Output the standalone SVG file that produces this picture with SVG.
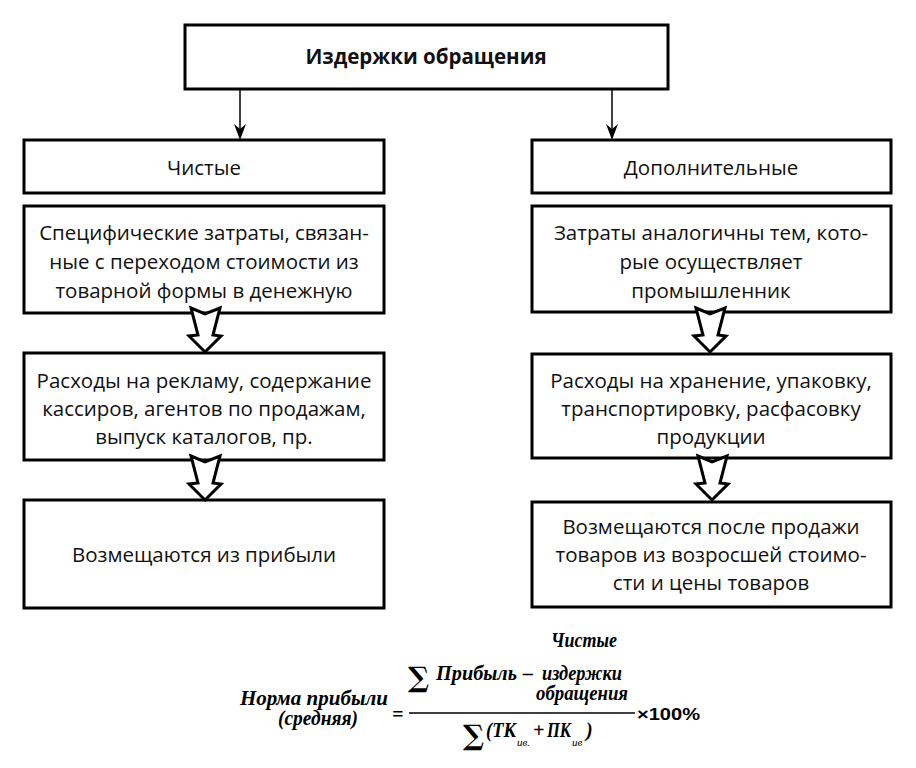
<svg xmlns="http://www.w3.org/2000/svg" width="916" height="768" viewBox="0 0 916 768">
<style>
.box{fill:#fff;stroke:#000;stroke-width:3}
.t{font-family:"Open Sans","DejaVu Sans",sans-serif;font-size:20.5px;fill:#111;text-anchor:middle}
.b{font-weight:bold}
.f{font-family:"Liberation Serif","Times New Roman",serif;font-weight:bold;font-style:italic;font-size:20px;fill:#000}
.s{font-family:"DejaVu Serif",serif;font-weight:bold;font-size:28px;fill:#000}
.sub{font-family:"Liberation Serif","Times New Roman",serif;font-style:italic;font-size:11px;fill:#000}
.ha{fill:#fff;stroke:#000;stroke-width:3;stroke-linejoin:miter}
.ln{stroke:#000;stroke-width:1.5;fill:none}
</style>
<defs>
<path id="head" d="M-6,-16 L0,-11 L6,-16 L0,0 Z" fill="#000"/>
<path id="hollow" d="M-14,0 L0,6 L15,0 L8,27 L16,28 L0,44 L-16,28 L-7,27 Z"/>
</defs>
<g id="connectors">
<line class="ln" x1="240" y1="89" x2="240" y2="130"/>
<use href="#head" transform="translate(240,140)"/>
<line class="ln" x1="612" y1="89" x2="612" y2="130"/>
<use href="#head" transform="translate(612,140)"/>
</g>
<g id="top">
<rect class="box" x="185" y="25" width="483" height="64"/>
<text class="t b" x="426" y="64">Издержки обращения</text>
</g>
<g id="chistye">
<rect class="box" x="24" y="140" width="360" height="53"/>
<text class="t" x="204" y="175">Чистые</text>
</g>
<g id="dop">
<rect class="box" x="532" y="140" width="359" height="53"/>
<text class="t" x="711" y="175">Дополнительные</text>
</g>
<g id="left2">
<rect class="box" x="24" y="206" width="360" height="107"/>
<text class="t" x="204" y="240">Специфические затраты, связан-</text>
<text class="t" x="204" y="269">ные с переходом стоимости из</text>
<text class="t" x="204" y="298">товарной формы в денежную</text>
</g>
<g id="right2">
<rect class="box" x="532" y="206" width="359" height="106"/>
<text class="t" x="711" y="240">Затраты аналогичны тем, кото-</text>
<text class="t" x="711" y="269">рые осуществляет</text>
<text class="t" x="711" y="298">промышленник</text>
</g>
<g id="left3">
<rect class="box" x="24" y="353" width="360" height="107"/>
<text class="t" x="204" y="388">Расходы на рекламу, содержание</text>
<text class="t" x="204" y="416">кассиров, агентов по продажам,</text>
<text class="t" x="204" y="444">выпуск каталогов, пр.</text>
</g>
<g id="right3">
<rect class="box" x="532" y="354" width="359" height="104"/>
<text class="t" x="711" y="388">Расходы на хранение, упаковку,</text>
<text class="t" x="711" y="416">транспортировку, расфасовку</text>
<text class="t" x="711" y="444">продукции</text>
</g>
<g id="left4">
<rect class="box" x="24" y="500" width="360" height="108"/>
<text class="t" x="204" y="562">Возмещаются из прибыли</text>
</g>
<g id="right4">
<rect class="box" x="532" y="502" width="359" height="105"/>
<text class="t" x="711" y="534">Возмещаются после продажи</text>
<text class="t" x="711" y="562">товаров из возросшей стоимо-</text>
<text class="t" x="711" y="590">сти и цены товаров</text>
</g>
<g id="hollow-arrows">
<use href="#hollow" class="ha" transform="translate(205,308)"/>
<use href="#hollow" class="ha" transform="translate(205,456)"/>
<use href="#hollow" class="ha" transform="translate(710,308)"/>
<use href="#hollow" class="ha" transform="translate(712,456)"/>
</g>
<g id="formula">
<text class="f" x="551" y="647" textLength="66" lengthAdjust="spacingAndGlyphs">Чистые</text>
<text class="s" x="408" y="687">∑</text>
<text class="f" x="436" y="680" textLength="81" lengthAdjust="spacingAndGlyphs">Прибыль</text>
<text class="f" x="523" y="680">–</text>
<text class="f" x="542" y="680" textLength="80" lengthAdjust="spacingAndGlyphs">издержки</text>
<text class="f" x="536" y="700" textLength="92" lengthAdjust="spacingAndGlyphs">обращения</text>
<text class="f" x="240" y="705" textLength="148" lengthAdjust="spacingAndGlyphs">Норма прибыли</text>
<text class="f" x="278" y="725" textLength="80" lengthAdjust="spacingAndGlyphs">(средняя)</text>
<text class="f" x="392" y="721" font-style="normal">=</text>
<line x1="409" y1="713" x2="635" y2="713" stroke="#000" stroke-width="1.5"/>
<text x="637" y="720" font-family="'Liberation Sans',Arial,sans-serif" font-weight="bold" font-size="17" textLength="63" lengthAdjust="spacingAndGlyphs">×100%</text>
<text class="s" x="463" y="745">∑</text>
<text class="f" x="486" y="737" textLength="30" lengthAdjust="spacingAndGlyphs">(ТК</text>
<text class="sub" x="517" y="746">ив.</text>
<text class="f" x="533" y="737">+</text>
<text class="f" x="547" y="737" textLength="24" lengthAdjust="spacingAndGlyphs">ПК</text>
<text class="sub" x="572" y="746">ив</text>
<text class="f" x="586" y="737">)</text>
</g>
</svg>
